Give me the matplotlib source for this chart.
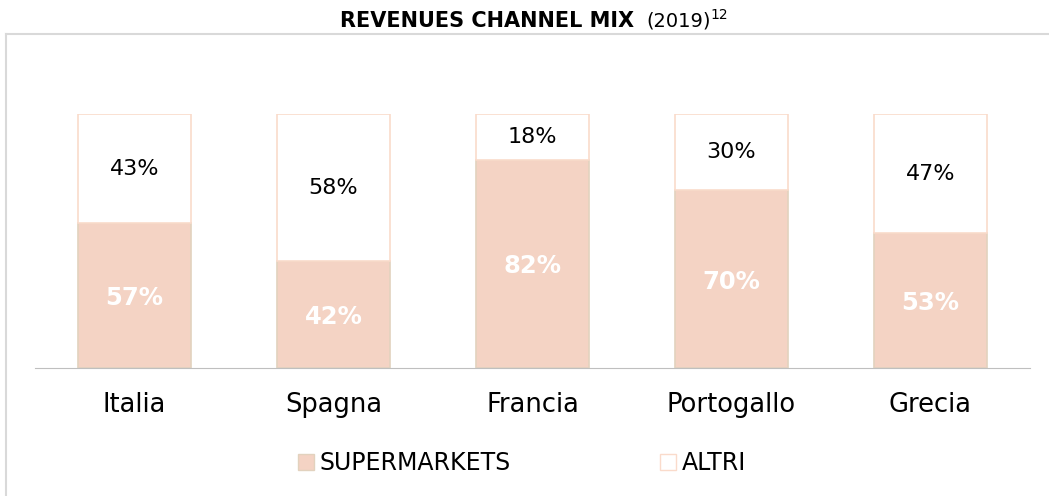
import numpy as np
import matplotlib
matplotlib.use("Agg")
import matplotlib.pyplot as plt
from matplotlib.lines import Line2D
from matplotlib.patches import Patch

countries = ['Italia', 'Spagna', 'Francia', 'Portogallo', 'Grecia']
supermarkets = [57, 42, 82, 70, 53]
altri = [43, 58, 18, 30, 47]

plt.rcParams['font.family'] = ['DejaVu Sans']

fig = plt.figure(figsize=(10.49, 4.96), dpi=100)
ax = fig.add_axes([35/1049, 128/496, 995/1049, 254/496])

x = np.arange(len(countries))
sup = np.array(supermarkets) / 100
alt = np.array(altri) / 100

ax.bar(x, sup, width=0.57, color='#F4D3C4', edgecolor='#E2D2BE', linewidth=1.2)
ax.bar(x, alt, bottom=sup, width=0.57, color='white', edgecolor='#FADBCB', linewidth=1.2)

for i in range(len(x)):
    ax.text(x[i], sup[i] / 2 - 0.01, f'{supermarkets[i]}%', ha='center', va='center',
            color='white', fontsize=17.5, fontweight='bold')
    ax.text(x[i], sup[i] + alt[i] / 2, f'{altri[i]}%', ha='center', va='center',
            color='black', fontsize=16)

ax.set_xlim(-0.5, 4.5)
ax.set_ylim(0, 1)
ax.set_xticks(x)
ax.set_xticklabels(countries, fontsize=18.5)
ax.tick_params(axis='x', length=0, pad=17)
ax.set_yticks([])
for s in ['top', 'right', 'left']:
    ax.spines[s].set_visible(False)
ax.spines['bottom'].set_color('#BFBFBF')

# titolo
ty = 1 - 21/496
fig.text(634/1049, ty, 'REVENUES CHANNEL MIX', ha='right', va='center',
         fontsize=15, fontweight='bold')
fig.text(646/1049, ty, '(2019)', ha='left', va='center', fontsize=14)
fig.text(710/1049, ty + 0.012, '12', ha='left', va='center', fontsize=10)

# cornice
fig.add_artist(Line2D([6/1049, 1], [1 - 34/496, 1 - 34/496], color='#D9D9D9', lw=1.5))
fig.add_artist(Line2D([6/1049, 6/1049], [0, 1 - 34/496], color='#D9D9D9', lw=1.5))

handles = [Patch(facecolor='#F4D3C4', edgecolor='#E2D2BE'),
           Patch(facecolor='white', edgecolor='#FADBCB')]
fig.legend(handles, ['SUPERMARKETS', 'ALTRI'], loc='center', bbox_to_anchor=(522/1049, 1 - 463/496),
           ncol=2, frameon=False, fontsize=17, columnspacing=6.3, handlelength=0.68,
           handleheight=0.68, handletextpad=0.25)

fig.savefig('out.png', dpi=100)
